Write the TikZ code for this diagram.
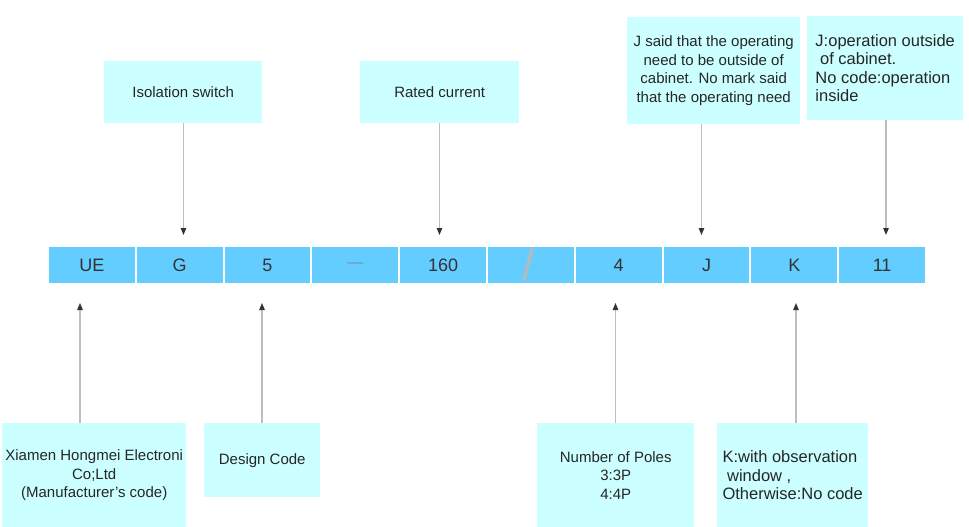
\documentclass[tikz,border=0pt]{standalone}
\usepackage{fontspec}
\setmainfont{Liberation Sans}
\usetikzlibrary{positioning,arrows.meta}
\definecolor{cellblue}{RGB}{99,205,255}
\definecolor{notecyan}{RGB}{204,255,255}
\definecolor{celltext}{RGB}{51,51,51}
\definecolor{dashgray}{RGB}{115,145,170}
\definecolor{linegray}{RGB}{190,190,190}

\begin{document}
\begin{tikzpicture}[x=1pt, y=-1pt, node distance = 2pt,
cell/.style={fill=cellblue, minimum width=85.8pt, minimum height=36pt, inner sep=0pt, outer sep=0pt, text=celltext, font=\fontsize{18}{20}\selectfont},
note/.style={fill=notecyan, anchor=north west, inner sep=0pt, align=center, text=black!85, font=\fontsize{15}{18.5}\selectfont},
leftnote/.style={note, align=left, font=\fontsize{16.5}{18.5}\selectfont},
arr/.style={draw=linegray, line width=1.2pt, -{Triangle[length=7pt,width=5.5pt,color=black!80]}}]
\useasboundingbox (0,0) rectangle (969,527);

% code cells
\node [cell, anchor=north west] (c_1) at (49,247) {UE};
\node [cell] (c_2) [right = of c_1] {G};
\node [cell] (c_3) [right = of c_2] {5};
\node [cell, text=dashgray, font=\fontsize{16}{18}\selectfont] (c_4) [right = of c_3] {\raisebox{-3pt}{—}};
\node [cell] (c_5) [right = of c_4] {160};
\node [cell] (c_6) [right = of c_5] {};
\node [text=gray!55, inner sep=0pt, font=\fontsize{44}{44}\selectfont] (slash) at ([xshift=-2pt]c_6) {/};
\node [cell] (c_7) [right = of c_6] {4};
\node [cell] (c_8) [right = of c_7] {J};
\node [cell] (c_9) [right = of c_8] {K};
\node [cell] (c_10) [right = of c_9] {11};

% notes above
\node [note, minimum width=158pt, minimum height=62pt] (iso) at (104,61) {Isolation switch};
\node [note, minimum width=159pt, minimum height=62pt] (rated) at (360,61) {Rated current};
\node [note, minimum width=173pt, minimum height=107pt] (jsaid) at (627,17) {J said that the operating\\need to be outside of\\cabinet. No mark said\\that the operating need};
\node [leftnote, minimum width=156pt, minimum height=104pt] (jop) at (807,16) {J:operation outside\\\ of cabinet.\\No code:operation\\inside};

% notes below
\node [note, minimum width=184pt, minimum height=104pt] (xiamen) at (2,423) {Xiamen Hongmei Electroni\\Co;Ltd\\(Manufacturer's code)};
\node [note, minimum width=116pt, minimum height=74pt] (design) at (204,423) {Design Code};
\node [note, minimum width=157pt, minimum height=104pt] (poles) at (537,423) {Number of Poles\\3:3P\\4:4P};
\node [leftnote, minimum width=151pt, minimum height=104pt] (kwin) at (717,423) {K:with observation\\\ window ,\\Otherwise:No code};

% arrow ends
\coordinate (t_g) at (183.5,235);
\coordinate (t_160) at (439.5,235);
\coordinate (t_j) at (701.5,235);
\coordinate (t_11) at (886,235);
\coordinate (b_ue) at (80,303);
\coordinate (b_5) at (262,303);
\coordinate (b_4) at (615.5,303);
\coordinate (b_k) at (796,303);

\draw [arr] (iso.south -| t_g) -- (t_g);
\draw [arr] (rated.south -| t_160) -- (t_160);
\draw [arr] (jsaid.south -| t_j) -- (t_j);
\draw [arr] (jop.south -| t_11) -- (t_11);
\draw [arr] (xiamen.north -| b_ue) -- (b_ue);
\draw [arr] (design.north -| b_5) -- (b_5);
\draw [arr] (poles.north -| b_4) -- (b_4);
\draw [arr] (kwin.north -| b_k) -- (b_k);
\end{tikzpicture}
\end{document}
